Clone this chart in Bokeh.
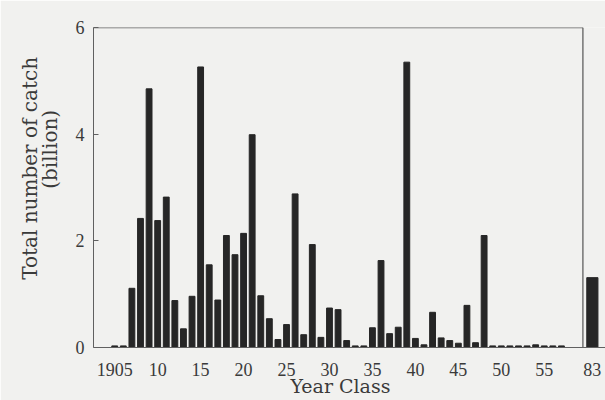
from bokeh.plotting import figure
from bokeh.models import FixedTicker, Range1d
from bokeh.embed import file_html
from bokeh.resources import INLINE

# ---- data ----
year_class = list(range(1905, 1958)) + [1983]
catch_billion = [
    0.03, 0.03, 1.11, 2.42, 4.85, 2.38, 2.82, 0.88, 0.35, 0.96,   # 1905-1914
    5.26, 1.55, 0.89, 2.10, 1.74, 2.14, 3.99, 0.97, 0.54, 0.15,   # 1915-1924
    0.43, 2.88, 0.24, 1.93, 0.19, 0.74, 0.71, 0.13, 0.03, 0.03,   # 1925-1934
    0.37, 1.63, 0.26, 0.38, 5.35, 0.17, 0.05, 0.66, 0.18, 0.13,   # 1935-1944
    0.08, 0.79, 0.09, 2.10, 0.03, 0.03, 0.03, 0.03, 0.03, 0.05,   # 1945-1954
    0.03, 0.03, 0.03,                                             # 1955-1957
    1.31,                                                         # 1983
]
x_ticks = [1905, 1910, 1915, 1920, 1925, 1930, 1935, 1940, 1945, 1950, 1955, 1983]
x_tick_labels = ["1905", "10", "15", "20", "25", "30", "35", "40", "45", "50", "55", "83"]
y_ticks = [0, 2, 4, 6]

# ---- layout constants (axis break) ----
FRAME_RIGHT = 1959.5      # where the box closes
BREAK_POS = 1960.6        # drawn position of the post-break year class
def place(y):
    return y if y < 1960 else BREAK_POS
x_pos = [place(y) for y in year_class]
bar_w = [0.68 if y < 1960 else 1.3 for y in year_class]
tick_pos = [place(t) for t in x_ticks]

BG = "#f1f1ef"
INK = "#262626"
GRAY = "#606060"
TXT = "#3a3a3a"
NB = "\u00a0"

X0 = 1902.53
p = figure(width=605, height=400, output_backend="svg", toolbar_location=None,
           x_range=Range1d(X0, 1962.13), y_range=Range1d(0, 6),
           min_border_left=93, min_border_top=27, min_border_bottom=53,
           min_border_right=0)
p.background_fill_color = BG
p.border_fill_color = BG
p.outline_line_color = None
p.grid.visible = False

p.vbar(x=x_pos, top=catch_billion, width=bar_w, bottom=0,
       fill_color=INK, line_color=INK)

# frame: top and right edges of the box
p.segment(x0=[X0, FRAME_RIGHT], y0=[6, 0], x1=[FRAME_RIGHT, FRAME_RIGHT], y1=[6, 6],
          line_color=GRAY, line_width=1.3)

# axes
p.xaxis.ticker = FixedTicker(ticks=tick_pos)
p.xaxis.major_label_overrides = dict(zip(tick_pos, x_tick_labels))
p.xaxis.major_tick_in = 0
p.xaxis.major_tick_out = 0
p.xaxis.minor_tick_in = 0
p.xaxis.minor_tick_out = 0
p.xaxis.major_label_standoff = 15
p.xaxis.axis_line_color = GRAY
p.xaxis.axis_label = "Year Class" + NB * 3
p.xaxis.axis_label_standoff = -4
p.xaxis.axis_label_text_font = "DejaVu Serif"
p.xaxis.axis_label_text_font_size = "19px"
p.xaxis.axis_label_text_font_style = "normal"
p.xaxis.axis_label_text_color = TXT

p.yaxis.ticker = FixedTicker(ticks=y_ticks)
p.yaxis.major_tick_in = 5
p.yaxis.major_tick_out = 0
p.yaxis.minor_tick_in = 0
p.yaxis.minor_tick_out = 0
p.yaxis.major_label_standoff = 9
p.yaxis.axis_line_color = GRAY
p.yaxis.major_tick_line_color = GRAY
p.yaxis.axis_label = NB * 6 + "Total number of catch" + "\n" + NB * 12 + "(billion)"
p.yaxis.axis_label_standoff = 11
p.yaxis.axis_label_text_font = "DejaVu Serif"
p.yaxis.axis_label_text_font_size = "20px"
p.yaxis.axis_label_text_font_style = "normal"
p.yaxis.axis_label_text_color = TXT
p.yaxis.axis_label_text_line_height = 0.8
for ax in (p.xaxis, p.yaxis):
    ax.major_label_text_font = "Liberation Serif"
    ax.major_label_text_font_size = "18px"
    ax.major_label_text_color = TXT

open("out.html", "w").write(file_html(p, INLINE))
